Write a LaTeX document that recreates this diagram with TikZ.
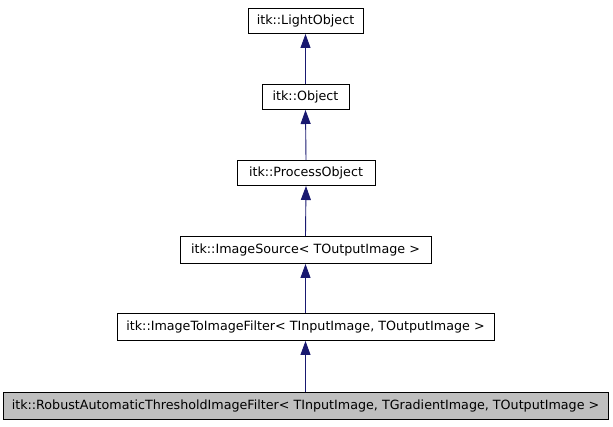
\documentclass[tikz,border=0pt]{standalone}
\usepackage{fontspec}
\setmainfont{DejaVu Sans}
\usetikzlibrary{arrows.meta}
\definecolor{edgeblue}{HTML}{191970}
\definecolor{boxgray}{HTML}{BFBFBF}
\tikzset{
  cls/.style={draw=black, line width=1pt, fill=white, rectangle, inner sep=0pt, minimum height=25pt, font=\fontsize{12.7pt}{15pt}\selectfont, anchor=center},
  cur/.style={cls, fill=boxgray},
  inh/.style={draw=edgeblue, line width=0.9pt, {Triangle[length=14pt,width=10pt]}-},
}
\begin{document}
\begin{tikzpicture}[x=1pt,y=-1pt]
\useasboundingbox (0,0) rectangle (613,427);
\node[cls, minimum width=115pt] (lo) at (305.5,21) {itk::LightObject};
\node[cls, minimum width=87pt] (ob) at (305.5,97) {itk::Object};
\node[cls, minimum width=138pt] (po) at (306,173) {itk::ProcessObject};
\node[cls, minimum width=251pt, minimum height=27pt] (is) at (305.5,250) {itk::ImageSource< TOutputImage >};
\node[cls, minimum width=377pt, minimum height=27pt] (itif) at (305.5,327) {itk::ImageToImageFilter< TInputImage, TOutputImage >};
\node[cur, minimum width=605pt, minimum height=27pt] (rat) at (305.5,406) {itk::RobustAutomaticThresholdImageFilter< TInputImage, TGradientImage, TOutputImage >};
\draw[inh] (lo.south) -- (ob.north);
\draw[inh] (ob.south) -- (po.north);
\draw[inh] (po.south) -- (is.north);
\draw[inh] (is.south) -- (itif.north);
\draw[inh] (itif.south) -- (rat.north);
\end{tikzpicture}
\end{document}
